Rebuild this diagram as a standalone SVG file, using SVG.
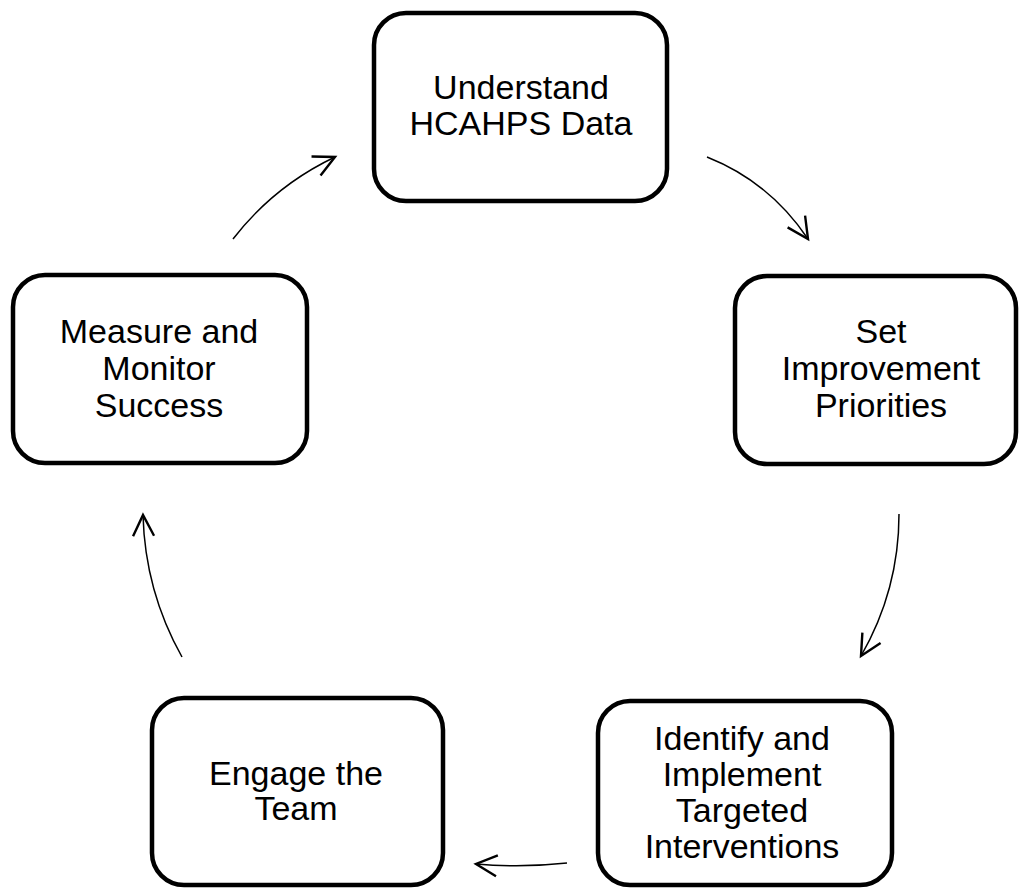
<svg xmlns="http://www.w3.org/2000/svg" width="1020" height="888" viewBox="0 0 1020 888">
<style>
.box{fill:#fff;stroke:#000;stroke-width:4.5}
.lbl{font-family:"Liberation Sans",Arial,sans-serif;font-size:34px;fill:#000;text-anchor:middle}
.conn{fill:none;stroke:#000;stroke-width:1.5}
</style>
<defs>
<marker id="arr" markerUnits="userSpaceOnUse" markerWidth="30" markerHeight="30" refX="0" refY="0" viewBox="-16 -10 20 20" orient="auto" overflow="visible">
<path d="M-14,-7 L0,0 L-14,7" fill="none" stroke="#000" stroke-width="1.6"/>
</marker>
</defs>
<rect width="1020" height="888" fill="#fff"/>
<g id="connectors">
<path class="conn" d="M707,157 Q770,182 808,239" marker-end="url(#arr)"/>
<path class="conn" d="M899,514 Q899,590 861,656" marker-end="url(#arr)"/>
<path class="conn" d="M567,863 Q521,868 476,864" marker-end="url(#arr)"/>
<path class="conn" d="M182,657 Q145,591 143,515" marker-end="url(#arr)"/>
<path class="conn" d="M233,239 Q274,186 335,157" marker-end="url(#arr)"/>
</g>
<g id="node-understand">
<rect class="box" x="374" y="13" width="293" height="188" rx="32"/>
<text class="lbl" x="521" y="99">Understand</text>
<text class="lbl" x="521" y="135">HCAHPS Data</text>
</g>
<g id="node-priorities">
<rect class="box" x="735" y="276" width="281" height="188" rx="32"/>
<text class="lbl" x="881" y="343">Set</text>
<text class="lbl" x="881" y="380">Improvement</text>
<text class="lbl" x="881" y="417">Priorities</text>
</g>
<g id="node-interventions">
<rect class="box" x="598" y="701" width="294" height="184" rx="32"/>
<text class="lbl" x="742" y="750">Identify and</text>
<text class="lbl" x="742" y="786">Implement</text>
<text class="lbl" x="742" y="822">Targeted</text>
<text class="lbl" x="742" y="858">Interventions</text>
</g>
<g id="node-engage">
<rect class="box" x="152" y="698" width="291" height="187" rx="32"/>
<text class="lbl" x="296" y="785">Engage the</text>
<text class="lbl" x="296" y="820">Team</text>
</g>
<g id="node-measure">
<rect class="box" x="13" y="275" width="294" height="188" rx="32"/>
<text class="lbl" x="159" y="343">Measure and</text>
<text class="lbl" x="159" y="380">Monitor</text>
<text class="lbl" x="159" y="417">Success</text>
</g>
</svg>
